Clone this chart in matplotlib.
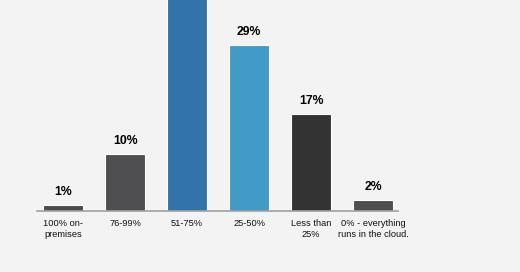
import matplotlib.pyplot as plt

categories = ['100% on-\npremises', '76-99%', '51-75%', '25-50%', 'Less than\n25%',
              '0% - everything\nruns in the cloud.']
values = [1, 10, 41, 29, 17, 2]
labels = ['1%', '10%', '41%', '29%', '17%', '2%']
colors = ['#4b4b4d', '#4f4f51', '#3273ab', '#429bc6', '#333333', '#4f4f51']

plt.rcParams['font.family'] = ['Liberation Sans', 'DejaVu Sans']

fig = plt.figure(figsize=(5.2, 2.72), dpi=100)
fig.patch.set_facecolor('#f3f3f3')
ax = fig.add_axes([37 / 520, 61 / 272, 361 / 520, 211 / 272])
ax.set_facecolor('#f3f3f3')

x = range(len(values))
bars = ax.bar(x, values, width=0.645, color=colors, edgecolor='white', linewidth=0.8)
for b, lab in zip(bars, labels):
    ax.annotate(lab, (b.get_x() + b.get_width() / 2, b.get_height()),
                xytext=(0, 5), textcoords='offset points', ha='center', va='bottom',
                fontsize=8.8, fontweight='bold', color='#000000')

ax.set_xlim(-0.42, 5.40)
ax.set_ylim(0, 36.9)
ax.set_xticks(list(x))
ax.set_xticklabels(categories, fontsize=6.7, color='#111111', linespacing=1.3)
ax.tick_params(axis='x', length=0, pad=6)
ax.set_yticks([])
for s in ['top', 'right', 'left']:
    ax.spines[s].set_visible(False)
ax.spines['bottom'].set_color('#a0a0a0')
ax.spines['bottom'].set_linewidth(1.2)

fig.savefig('out.png', dpi=100, facecolor=fig.get_facecolor())
